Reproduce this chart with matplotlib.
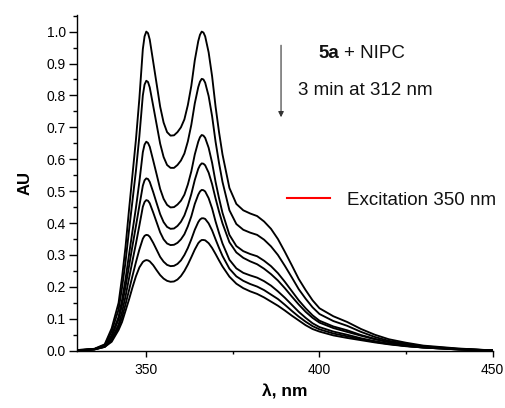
import numpy as np
import matplotlib
matplotlib.use("Agg")
import matplotlib.pyplot as plt
from matplotlib.lines import Line2D
from matplotlib.ticker import MultipleLocator, FormatStrFormatter

plt.rcParams['font.family'] = ['Liberation Sans', 'DejaVu Sans']

# wavelength grid (nm) and absorbance of the 7 spectra (top -> bottom)
wl = [330, 335, 338, 340, 342, 343, 344, 345, 346, 347, 348, 349, 349.5, 350, 350.5, 351,
      352, 353, 354, 355, 356, 357, 358, 359, 360, 361, 362, 363, 364, 365, 365.5, 366,
      366.5, 367, 368, 369, 370, 371, 372, 374,
      376, 378, 380, 382, 384, 386, 388, 390, 392, 394, 396, 398,
      400, 404, 408, 412, 416, 420, 425, 430, 440, 450]

au_1 = [0.002, 0.006, 0.020, 0.070, 0.150, 0.230, 0.325, 0.440, 0.550, 0.660,
        0.790, 0.945, 0.985, 1.000, 0.995, 0.975, 0.905, 0.835, 0.765, 0.715,
        0.685, 0.674, 0.675, 0.685, 0.700, 0.725, 0.770, 0.830, 0.910, 0.970,
        0.990, 1.000, 0.997, 0.985, 0.935, 0.860, 0.765, 0.685, 0.615, 0.510,
        0.460, 0.440, 0.430, 0.422, 0.405, 0.382, 0.350, 0.310, 0.268, 0.225, 0.190, 0.158,
        0.133, 0.108, 0.090, 0.068, 0.050, 0.036, 0.025, 0.016, 0.007, 0.001]
au_2 = [0.002, 0.005, 0.018, 0.060, 0.129, 0.197, 0.278, 0.376, 0.469, 0.563,
        0.672, 0.800, 0.834, 0.846, 0.842, 0.825, 0.767, 0.708, 0.649, 0.607,
        0.582, 0.573, 0.573, 0.582, 0.596, 0.618, 0.656, 0.708, 0.775, 0.826,
        0.843, 0.852, 0.850, 0.840, 0.798, 0.735, 0.655, 0.588, 0.529, 0.440,
        0.397, 0.379, 0.370, 0.363, 0.348, 0.327, 0.300, 0.266, 0.230, 0.193, 0.163, 0.136,
        0.115, 0.093, 0.078, 0.059, 0.043, 0.031, 0.022, 0.014, 0.006, 0.001]
au_3 = [0.001, 0.005, 0.015, 0.049, 0.106, 0.159, 0.224, 0.300, 0.374, 0.447,
        0.529, 0.622, 0.646, 0.655, 0.651, 0.639, 0.596, 0.552, 0.507, 0.476,
        0.457, 0.449, 0.450, 0.458, 0.470, 0.489, 0.521, 0.562, 0.615, 0.655,
        0.669, 0.676, 0.674, 0.667, 0.636, 0.589, 0.529, 0.478, 0.432, 0.363,
        0.328, 0.312, 0.303, 0.296, 0.282, 0.265, 0.243, 0.216, 0.187, 0.158, 0.133, 0.111,
        0.094, 0.076, 0.064, 0.049, 0.037, 0.027, 0.019, 0.012, 0.005, 0.001]
au_4 = [0.001, 0.005, 0.016, 0.044, 0.098, 0.143, 0.200, 0.264, 0.328, 0.390,
        0.454, 0.517, 0.534, 0.540, 0.538, 0.529, 0.497, 0.462, 0.428, 0.403,
        0.388, 0.382, 0.383, 0.391, 0.404, 0.424, 0.454, 0.491, 0.535, 0.570,
        0.581, 0.587, 0.586, 0.581, 0.558, 0.522, 0.477, 0.436, 0.399, 0.340,
        0.308, 0.291, 0.280, 0.271, 0.257, 0.240, 0.220, 0.196, 0.170, 0.145, 0.122, 0.103,
        0.088, 0.071, 0.059, 0.047, 0.036, 0.027, 0.019, 0.013, 0.005, 0.001]
au_5 = [0.001, 0.004, 0.013, 0.037, 0.082, 0.121, 0.170, 0.226, 0.281, 0.335,
        0.392, 0.451, 0.466, 0.472, 0.470, 0.462, 0.433, 0.402, 0.371, 0.349,
        0.336, 0.331, 0.332, 0.338, 0.349, 0.365, 0.390, 0.421, 0.460, 0.489,
        0.499, 0.504, 0.503, 0.499, 0.478, 0.446, 0.405, 0.369, 0.336, 0.285,
        0.258, 0.244, 0.236, 0.229, 0.218, 0.204, 0.186, 0.166, 0.144, 0.122, 0.103, 0.086,
        0.074, 0.060, 0.050, 0.039, 0.030, 0.022, 0.015, 0.010, 0.004, 0.001]
au_6 = [0.001, 0.004, 0.012, 0.032, 0.073, 0.104, 0.145, 0.189, 0.234, 0.277,
        0.317, 0.351, 0.360, 0.363, 0.362, 0.357, 0.338, 0.316, 0.294, 0.279,
        0.269, 0.265, 0.266, 0.272, 0.283, 0.300, 0.322, 0.349, 0.379, 0.403,
        0.411, 0.415, 0.415, 0.413, 0.399, 0.377, 0.349, 0.322, 0.297, 0.257,
        0.233, 0.219, 0.209, 0.201, 0.190, 0.176, 0.162, 0.144, 0.125, 0.107, 0.091, 0.077,
        0.067, 0.054, 0.045, 0.036, 0.028, 0.021, 0.015, 0.010, 0.004, 0.000]
au_7 = [0.001, 0.004, 0.012, 0.028, 0.065, 0.090, 0.125, 0.160, 0.198, 0.233,
        0.261, 0.278, 0.282, 0.284, 0.283, 0.280, 0.268, 0.252, 0.237, 0.226,
        0.219, 0.216, 0.217, 0.223, 0.234, 0.250, 0.270, 0.293, 0.317, 0.337,
        0.343, 0.347, 0.347, 0.346, 0.337, 0.322, 0.303, 0.283, 0.264, 0.232,
        0.210, 0.196, 0.186, 0.178, 0.167, 0.154, 0.141, 0.126, 0.110, 0.095, 0.080, 0.068,
        0.060, 0.048, 0.040, 0.033, 0.026, 0.020, 0.014, 0.010, 0.004, 0.000]

spectra = [au_1, au_2, au_3, au_4, au_5, au_6, au_7]

fig = plt.figure(figsize=(5.05, 4.08), dpi=100)
ax = fig.add_axes([0.1525, 0.1404, 0.8231, 0.8228])

for s in spectra:
    ax.plot(wl, s, color='black', lw=1.35, solid_joinstyle='round')

ax.set_xlim(330, 450)
ax.set_ylim(0, 1.052)
ax.xaxis.set_major_locator(MultipleLocator(50))
ax.xaxis.set_minor_locator(MultipleLocator(25))
ax.yaxis.set_major_locator(MultipleLocator(0.1))
ax.yaxis.set_minor_locator(MultipleLocator(0.05))
ax.yaxis.set_major_formatter(FormatStrFormatter('%.1f'))

for side in ['top', 'right']:
    ax.spines[side].set_visible(False)
for side in ['left', 'bottom']:
    ax.spines[side].set_linewidth(1.0)

ax.tick_params(axis='y', which='major', direction='out', length=5.5, width=1, pad=2.5, labelsize=10)
ax.tick_params(axis='y', which='minor', direction='out', length=3, width=1)
ax.tick_params(axis='x', which='major', direction='out', length=4.5, width=1, pad=4, labelsize=10)
ax.tick_params(axis='x', which='minor', direction='out', length=2.5, width=1)

ax.set_xlabel('λ, nm', fontsize=12.5, fontweight='bold', labelpad=6)
ax.set_ylabel('AU', fontsize=12, fontweight='bold', labelpad=10)

# irradiation arrow and notes
ax.annotate('', xy=(388.9, 0.723), xytext=(388.9, 0.966),
            arrowprops=dict(arrowstyle='-|>', lw=0.8, color='#333333', mutation_scale=8))
t1 = ax.text(399.6, 0.930, '5a', fontsize=13.5, fontweight='bold', va='center', ha='left', color='#111111')
ax.annotate('+ NIPC', xy=(1, 0), xycoords=t1, xytext=(4, 0), textcoords='offset points',
            fontsize=13.5, va='bottom', ha='left', color='#111111')
ax.text(393.7, 0.814, '3 min at 312 nm', fontsize=13.5, va='center', ha='left', color='#111111')

leg = ax.legend(handles=[Line2D([], [], color='red', lw=1.5)], labels=['Excitation 350 nm'],
                loc='center left', bbox_to_anchor=(0.504, 0.449), frameon=False,
                fontsize=13.5, handlelength=2.3, handletextpad=0.9, borderpad=0, borderaxespad=0)
for t in leg.get_texts():
    t.set_color('#111111')

fig.savefig('out.png', dpi=100)
